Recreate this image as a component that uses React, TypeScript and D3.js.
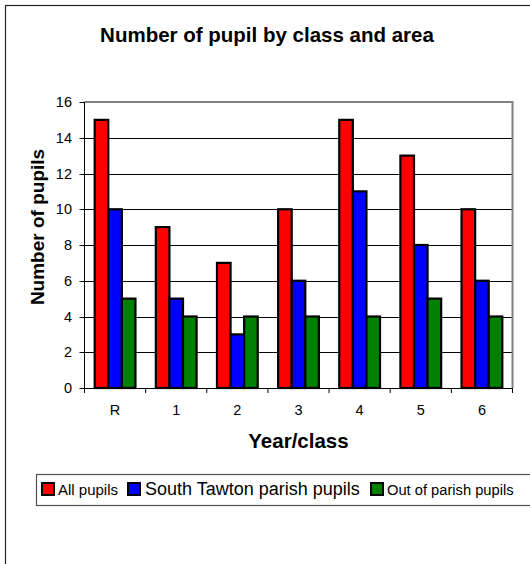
import React from "react";
import * as d3 from "d3";

const categories = ["R", "1", "2", "3", "4", "5", "6"];
const seriesNames = ["All pupils", "South Tawton parish pupils", "Out of parish pupils"];
const allPupils = [15, 9, 7, 10, 15, 13, 10];
const parishPupils = [10, 5, 3, 6, 11, 8, 6];
const outPupils = [5, 4, 4, 4, 4, 5, 4];
const yTicks = [0, 2, 4, 6, 8, 10, 12, 14, 16];
const colors = ["#FF0000", "#0000FF", "#008000"];
const legendFontSizes = [15, 18, 14.7];

const W = 530;
const H = 564;
const plot = { left: 84.5, right: 512.5, top: 102, bottom: 388 };
const FONT = "Arial, 'Liberation Sans', sans-serif";

export default function App() {
  const series = [allPupils, parishPupils, outPupils];
  const x0 = d3.scaleBand<string>().domain(categories).range([plot.left, plot.right]).paddingInner(0).paddingOuter(0);
  const bw = x0.bandwidth();
  const barW = bw / 4.5;
  const x1 = d3.scaleBand<number>().domain([0, 1, 2]).range([bw * 0.75 / 4.5, bw * 0.75 / 4.5 + barW * 3]);
  const y = d3.scaleLinear().domain([0, 16]).range([plot.bottom, plot.top]);

  const legendItems = [
    { x: 42, tx: 58 },
    { x: 128, tx: 145 },
    { x: 371, tx: 387 },
  ];

  return (
    <svg width={W} height={H} style={{ position: "absolute", left: 0, top: 0, background: "#fff" }} fontFamily={FONT}>
      <rect x={0} y={0} width={W} height={H} fill="#fff" />
      <rect x={5.5} y={5.5} width={W + 10} height={H + 10} fill="none" stroke="#222" strokeWidth={1.2} />
      <text x={267} y={42} textAnchor="middle" fontSize={20.5} fontWeight="bold" fill="#000">
        Number of pupil by class and area
      </text>
      {yTicks.filter((t) => t > 0 && t < 16).map((t) => (
        <line key={t} x1={plot.left} x2={plot.right} y1={Math.round(y(t)) + 0.5} y2={Math.round(y(t)) + 0.5} stroke="#000" strokeWidth={1} />
      ))}
      <polyline
        points={`${plot.left},${plot.top} ${plot.right},${plot.top} ${plot.right},${plot.bottom}`}
        fill="none"
        stroke="#808080"
        strokeWidth={2}
      />
      {categories.map((c, i) => (
        <g key={c} transform={`translate(${x0(c)},0)`}>
          {series.map((s, k) => (
            <rect
              key={k}
              x={x1(k)}
              y={y(s[i])}
              width={x1.bandwidth()}
              height={y(0) - y(s[i])}
              fill={colors[k]}
              stroke="#000"
              strokeWidth={2.2}
            />
          ))}
        </g>
      ))}
      <line x1={plot.left} x2={plot.left} y1={plot.top} y2={plot.bottom} stroke="#000" strokeWidth={1} />
      {yTicks.map((t) => (
        <g key={t}>
          <line x1={plot.left - 5} x2={plot.left} y1={Math.round(y(t)) + 0.5} y2={Math.round(y(t)) + 0.5} stroke="#000" />
          <text x={72} y={y(t) + 5} textAnchor="end" fontSize={14.5} fill="#000">
            {t}
          </text>
        </g>
      ))}
      <line x1={plot.left} x2={plot.right} y1={plot.bottom + 0.5} y2={plot.bottom + 0.5} stroke="#000" strokeWidth={1} />
      {categories.map((c) => (
        <line key={"t" + c} x1={x0(c)!} x2={x0(c)!} y1={plot.bottom} y2={plot.bottom + 5} stroke="#000" />
      ))}
      <line x1={plot.right} x2={plot.right} y1={plot.bottom} y2={plot.bottom + 5} stroke="#000" />
      {categories.map((c) => (
        <text key={"l" + c} x={x0(c)! + bw / 2} y={415} textAnchor="middle" fontSize={14.5} fill="#000">
          {c}
        </text>
      ))}
      <text x={(plot.left + plot.right) / 2} y={448} textAnchor="middle" fontSize={20.5} fontWeight="bold" fill="#000">
        Year/class
      </text>
      <text
        transform={`translate(44, ${227}) rotate(-90)`}
        textAnchor="middle"
        fontSize={19}
        fontWeight="bold"
        fill="#000"
      >
        Number of pupils
      </text>
      <rect x={36.5} y={474.5} width={W} height={31} fill="#fff" stroke="#555" strokeWidth={1.2} />
      {seriesNames.map((n, k) => (
        <g key={n}>
          <rect x={legendItems[k].x} y={483} width={12} height={12} fill={colors[k]} stroke="#000" strokeWidth={2} />
          <text x={legendItems[k].tx} y={495} fontSize={legendFontSizes[k]} fill="#000">
            {n}
          </text>
        </g>
      ))}
    </svg>
  );
}
